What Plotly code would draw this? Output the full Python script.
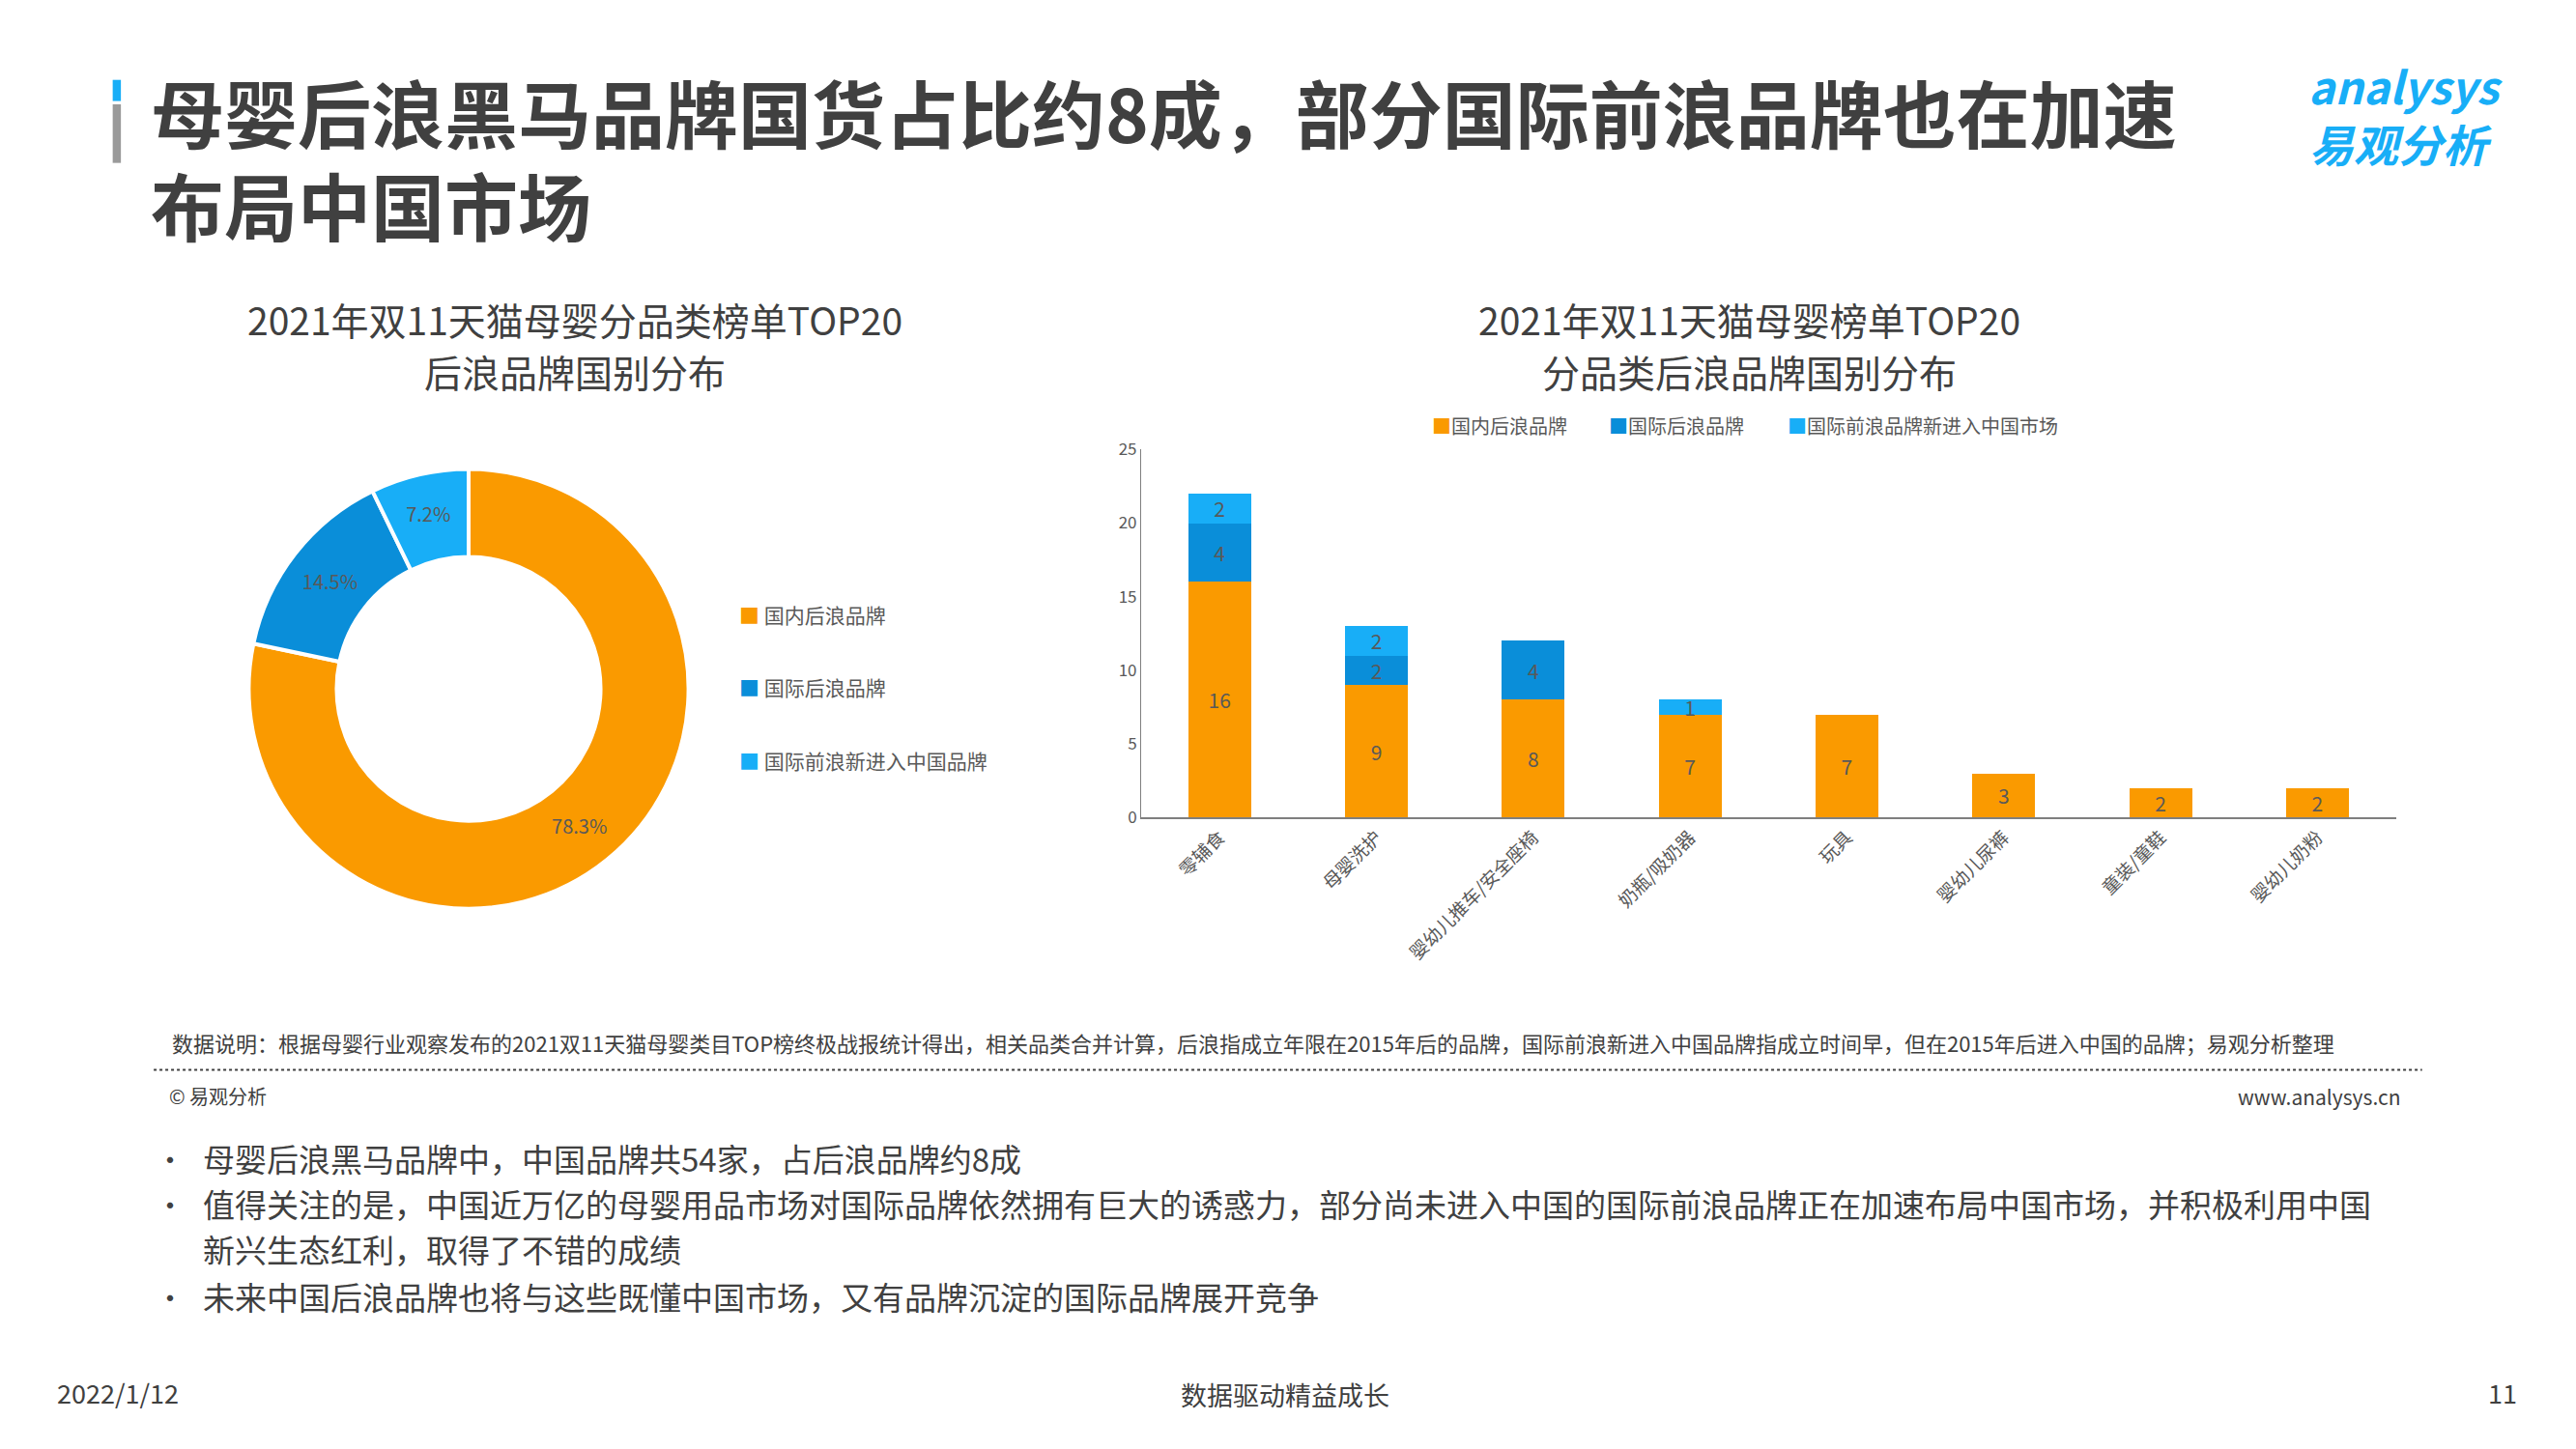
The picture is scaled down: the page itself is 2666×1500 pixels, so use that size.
import plotly.graph_objects as go

# donut data
donut_labels = ["国内后浪品牌", "国际后浪品牌", "国际前浪新进入中国品牌"]
donut_values = [78.3, 14.5, 7.2]

# bar data
categories = ["零辅食", "母婴洗护", "婴幼儿推车/安全座椅", "奶瓶/吸奶器", "玩具", "婴幼儿尿裤", "童装/童鞋", "婴幼儿奶粉"]
domestic = [16, 9, 8, 7, 7, 3, 2, 2]
intl_new = [4, 2, 4, None, None, None, None, None]
intl_old = [2, 2, None, 1, None, None, None, None]
series_names = ["国内后浪品牌", "国际后浪品牌", "国际前浪品牌新进入中国市场"]

ORANGE = "#FA9A00"
DARK_BLUE = "#0A8ED9"
LIGHT_BLUE = "#18AEF7"
FONT = "Noto Sans CJK SC"
GREY = "#595959"


# reference pixel (1555x875 view) -> paper coords
def fx(x):
    return (x - 6) / 1.01 / 1555


def fy(y):
    return 1 - (y - 9) / 875


fig = go.Figure()

fig.add_trace(go.Pie(
    labels=donut_labels, values=donut_values, hole=0.6, sort=False,
    direction="clockwise", rotation=0,
    marker=dict(colors=[ORANGE, DARK_BLUE, LIGHT_BLUE], line=dict(color="white", width=4)),
    texttemplate="%{value}%", textposition="inside", insidetextorientation="horizontal",
    textfont=dict(size=20, color=GREY, family=FONT),
    domain=dict(x=[fx(152), fx(422)], y=[fy(554), fy(284)]),
    showlegend=False,
))

for name, vals, col in zip(series_names, [domestic, intl_new, intl_old], [ORANGE, DARK_BLUE, LIGHT_BLUE]):
    fig.add_trace(go.Bar(
        x=categories, y=vals, name=name, marker=dict(color=col, line=dict(width=0)),
        text=vals, textposition="inside", insidetextanchor="middle", textangle=0,
        textfont=dict(size=21, color=GREY, family=FONT), showlegend=False,
    ))

fig.update_layout(
    width=2666, height=1500, barmode="stack", bargap=0.6,
    margin=dict(l=0, r=0, t=0, b=0),
    paper_bgcolor="white", plot_bgcolor="white",
    font=dict(family=FONT, color=GREY),
    uniformtext=dict(minsize=20, mode="show"),
    xaxis=dict(domain=[fx(697), fx(1462)], tickangle=-45, showline=True, linecolor="#7f7f7f", linewidth=2,
               tickfont=dict(size=19, color=GREY), ticks=""),
    yaxis=dict(domain=[fy(498), fy(272)], range=[0, 25], dtick=5, showgrid=False, showline=True,
               linecolor="#7f7f7f", linewidth=1, tickfont=dict(size=17, color=GREY), zeroline=False),
)

ann = []


def t(x, y, text, size, color=GREY, xa="center"):
    ann.append(dict(x=fx(x), y=fy(y), xref="paper", yref="paper", text=text, showarrow=False,
                    xanchor=xa, yanchor="middle", font=dict(size=size, color=color, family=FONT)))


# header
t(92, 64, "<b>母婴后浪黑马品牌国货占比约8成，部分国际前浪品牌也在加速</b>", 76, "#404040", "left")
t(92, 121, "<b>布局中国市场</b>", 76, "#404040", "left")
t(1528, 48, "<i><b>analysys</b></i>", 46, LIGHT_BLUE, "right")
t(1522, 84, "<i><b>易观分析</b></i>", 46, LIGHT_BLUE, "right")
fig.add_shape(type="rect", xref="paper", yref="paper", x0=fx(70), x1=fx(75),
              y0=fy(58), y1=fy(45), fillcolor=LIGHT_BLUE, line_width=0)
fig.add_shape(type="rect", xref="paper", yref="paper", x0=fx(70), x1=fx(75),
              y0=fy(96), y1=fy(60), fillcolor="#9a9a9a", line_width=0)

# chart titles
t(352, 192, "2021年双11天猫母婴分品类榜单TOP20", 39, "#404040")
t(352, 224, "后浪品牌国别分布", 39, "#404040")
t(1068, 192, "2021年双11天猫母婴榜单TOP20", 39, "#404040")
t(1068, 224, "分品类后浪品牌国别分布", 39, "#404040")

# donut legend
for i, (lab, col) in enumerate(zip(donut_labels, [ORANGE, DARK_BLUE, LIGHT_BLUE])):
    t(451, 373 + 45 * i, f"<span style='color:{col}'>■</span> {lab}", 21, GREY, "left")

# bar legend
for x, lab, col in zip([873, 981, 1090], series_names, [ORANGE, DARK_BLUE, LIGHT_BLUE]):
    t(x, 257, f"<span style='color:{col}'>■</span>{lab}", 20, GREY, "left")

# footnotes
t(105, 636,
  "数据说明：根据母婴行业观察发布的2021双11天猫母婴类目TOP榜终极战报统计得出，相关品类合并计算，后浪指成立年限在2015年后的品牌，国际前浪新进入中国品牌指成立时间早，但在2015年后进入中国的品牌；易观分析整理",
  22, "#404040", "left")
fig.add_shape(type="line", xref="paper", yref="paper", x0=fx(95), x1=fx(1478),
              y0=fy(653), y1=fy(653), line=dict(color="#404040", width=2, dash="dot"))
t(103, 669, "© 易观分析", 20, "#404040", "left")
t(1466, 669, "www.analysys.cn", 21, "#404040", "right")

bullets = [
    (707, "•", "母婴后浪黑马品牌中，中国品牌共54家，占后浪品牌约8成"),
    (735, "•", "值得关注的是，中国近万亿的母婴用品市场对国际品牌依然拥有巨大的诱惑力，部分尚未进入中国的国际前浪品牌正在加速布局中国市场，并积极利用中国"),
    (763, "", "新兴生态红利，取得了不错的成绩"),
    (792, "•", "未来中国后浪品牌也将与这些既懂中国市场，又有品牌沉淀的国际品牌展开竞争"),
]
for y, b, txt in bullets:
    if b:
        t(105, y, b, 30, "#404040", "center")
    t(124, y, txt, 33, "#404040", "left")

t(35, 851, "2022/1/12", 27, "#404040", "left")
t(785, 852, "数据驱动精益成长", 27, "#404040")
t(1537, 851, "11", 27, "#404040", "right")

fig.update_layout(annotations=ann)
fig.write_html("out.html")
